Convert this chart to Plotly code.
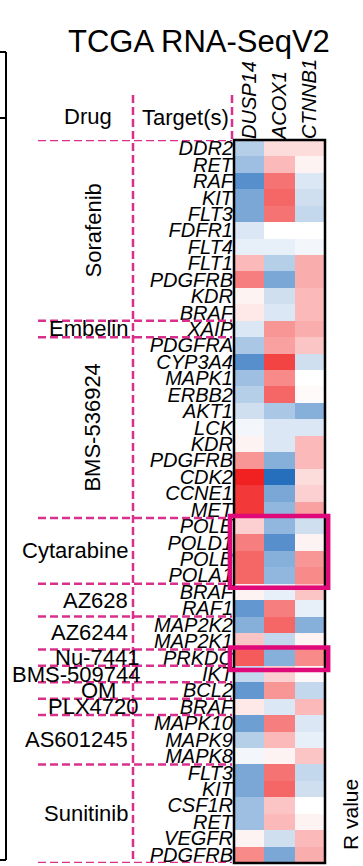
import plotly.graph_objects as go

# ---------------- data ----------------
genes = ["DUSP14", "ACOX1", "CTNNB1"]
drugs = ["Sorafenib", "Embelin", "BMS-536924", "Cytarabine", "AZ628", "AZ6244",
         "Nu-7441", "BMS-509744", "OM", "PLX4720", "AS601245", "Sunitinib"]
drug_sizes = [11, 1, 11, 4, 2, 2, 1, 1, 1, 1, 3, 6]
targets = ["DDR2", "RET", "RAF", "KIT", "FLT3", "FDFR1", "FLT4", "FLT1", "PDGFRB", "KDR", "BRAF",
           "XAIP",
           "PDGFRA", "CYP3A4", "MAPK1", "ERBB2", "AKT1", "LCK", "KDR", "PDGFRB", "CDK2", "CCNE1", "MET",
           "POLE", "POLD1", "POLB", "POLA1",
           "BRAF", "RAF1",
           "MAP2K2", "MAP2K1",
           "PRKDC",
           "IKT",
           "BCL2",
           "BRAF",
           "MAPK10", "MAPK9", "MAPK8",
           "FLT3", "KIT", "CSF1R", "RET", "VEGFR", "PDGFRB"]
dusp14 = [-0.3, -0.4, -0.7, -0.55, -0.55, -0.15, -0.1, 0.3, 0.55, 0.05, 0.1,
          -0.15,
          -0.35, -0.7, -0.4, -0.3, -0.2, -0.05, 0.05, 0.45, 0.95, 0.85, 0.85,
          0.2, 0.55, 0.65, 0.65,
          0.05, -0.65,
          -0.5, 0.25,
          0.7,
          -0.25,
          -0.65,
          0.1,
          -0.6, -0.3, -0.05,
          -0.55, -0.55, -0.4, -0.4, 0.05, 0.5]
acox1 = [0.15, 0.3, 0.6, 0.65, 0.6, 0.0, -0.1, -0.3, -0.55, -0.2, -0.15,
         0.45,
         0.4, 0.8, 0.5, 0.65, -0.35, -0.15, -0.15, -0.5, -0.9, -0.55, -0.45,
         -0.45, -0.7, -0.5, -0.45,
         -0.1, 0.55,
         0.65, -0.25,
         -0.5,
         0.2,
         0.45,
         -0.15,
         0.55, 0.3, 0.05,
         0.6, 0.65, 0.25, 0.3, -0.2, -0.55]
ctnnb1 = [0.15, 0.05, -0.15, -0.2, -0.25, 0.0, -0.05, 0.35, 0.35, 0.3, 0.3,
          0.35,
          0.25, -0.2, 0.0, 0.02, -0.5, -0.15, 0.3, 0.3, 0.15, 0.2, 0.4,
          -0.2, 0.05, 0.45, 0.5,
          0.25, -0.1,
          -0.5, 0.05,
          0.5,
          0.03,
          -0.25,
          0.3,
          -0.15, -0.1, 0.25,
          -0.25, -0.2, 0.0, 0.05, 0.3, 0.35]
highlight_drugs = ["Cytarabine", "Nu-7441"]
rotated_drugs = ["Sorafenib", "BMS-536924"]

# ---------------- layout helpers ----------------
W, H = 363, 866
FONT = "Arial, Liberation Sans, sans-serif"
PINK = "#d8308c"
BOX = "#e0097a"
# label placement (pixels) for the drug column
label_right = {"Nu-7441": 141, "BMS-509744": 142, "PLX4720": 141}
label_center = {"OM": 98}


def px(x):
    return x / W


def py(y):
    return 1 - y / H


n = len(targets)
z = [[dusp14[i], acox1[i], ctnnb1[i]] for i in range(n)]

fig = go.Figure(go.Heatmap(
    z=z, x=list(range(len(genes))), y=list(range(n)),
    zmin=-1, zmax=1, showscale=False,
    colorscale=[[0, "#0d5fb5"], [0.5, "#ffffff"], [1, "#f01515"]],
    hoverinfo="skip",
))

fig.update_layout(
    width=W, height=H, margin=dict(l=0, r=0, t=0, b=0),
    paper_bgcolor="white", plot_bgcolor="white",
    font=dict(family=FONT, color="black"),
    xaxis=dict(domain=[px(234), px(325)], side="top", tickmode="array",
               tickvals=list(range(len(genes))), ticktext=genes, tickangle=-90,
               tickfont=dict(size=20, style="italic", family=FONT, color="black"),
               showgrid=False, zeroline=False, ticks="", range=[-0.5, 2.5],
               automargin=False),
    yaxis=dict(domain=[py(863), py(140)], tickmode="array",
               tickvals=list(range(n)), ticktext=targets,
               tickfont=dict(size=20, style="italic", family=FONT, color="black"),
               showgrid=False, zeroline=False, ticks="", range=[n - 0.5, -0.5],
               automargin=False, ticklabelstandoff=0),
)

shapes = []
annotations = []

# heatmap border
shapes.append(dict(type="rect", xref="x domain", yref="y domain", x0=0, x1=1, y0=0, y1=1,
                   line=dict(color="black", width=2.5)))

# left neighbour panel edge
shapes.append(dict(type="line", xref="paper", yref="paper", x0=px(6), x1=px(6), y0=py(52), y1=py(860),
                   line=dict(color="black", width=2)))
for yy in (52, 118, 860):
    shapes.append(dict(type="line", xref="paper", yref="paper", x0=0, x1=px(6), y0=py(yy), y1=py(yy),
                       line=dict(color="black", width=2)))

dash = "8px,4px"
# header dashed lines
shapes.append(dict(type="line", xref="paper", yref="paper", x0=px(133), x1=px(133), y0=py(95), y1=py(862),
                   line=dict(color=PINK, width=2.5, dash=dash)))
shapes.append(dict(type="line", xref="paper", yref="paper", x0=px(232), x1=px(232), y0=py(95), y1=py(141),
                   line=dict(color=PINK, width=2.5, dash=dash)))
shapes.append(dict(type="line", xref="paper", yref="y", x0=px(38), x1=px(232), y0=-0.5, y1=-0.5,
                   line=dict(color=PINK, width=2.5, dash=dash)))

# group boundaries, labels and highlight boxes
start = 0
for d, s in zip(drugs, drug_sizes):
    end = start + s
    shapes.append(dict(type="line", xref="paper", yref="y", x0=px(38), x1=px(232),
                       y0=end - 0.5, y1=end - 0.5,
                       line=dict(color=PINK, width=2.5, dash=dash)))
    center = (start + end - 1) / 2
    if d in rotated_drugs:
        annotations.append(dict(text=d, xref="paper", yref="y", x=px(93), y=center,
                                xanchor="center", yanchor="middle",
                                showarrow=False, textangle=-90,
                                font=dict(size=22, family=FONT, color="black")))
    elif d in label_center:
        annotations.append(dict(text=d, xref="paper", yref="y", x=px(label_center[d]), y=center,
                                xanchor="center", yanchor="middle", showarrow=False,
                                font=dict(size=22, family=FONT, color="black")))
    else:
        annotations.append(dict(text=d, xref="paper", yref="y", x=px(label_right.get(d, 130)), y=center,
                                xanchor="right", yanchor="middle", showarrow=False,
                                font=dict(size=22, family=FONT, color="black")))
    if d in highlight_drugs:
        shapes.append(dict(type="rect", xref="x domain", yref="y", x0=-0.045, x1=1.035,
                           y0=start - 0.62, y1=end - 0.25,
                           line=dict(color=BOX, width=4.5)))
    start = end

# header texts
annotations += [
    dict(text="TCGA RNA-SeqV2", xref="paper", yref="paper", x=px(199), y=py(42),
         xanchor="center", yanchor="middle",
         showarrow=False, font=dict(size=31, family=FONT, color="black")),
    dict(text="Drug", xref="paper", yref="paper", x=px(88), y=py(116),
         xanchor="center", yanchor="middle",
         showarrow=False, font=dict(size=22, family=FONT, color="black")),
    dict(text="Target(s)", xref="paper", yref="paper", x=px(185), y=py(118),
         xanchor="center", yanchor="middle",
         showarrow=False, font=dict(size=22, family=FONT, color="black")),
    dict(text="R value", xref="paper", yref="paper", x=px(350), y=py(815),
         xanchor="center", yanchor="middle",
         showarrow=False, textangle=-90, font=dict(size=21, family=FONT, color="black")),
]

fig.update_layout(shapes=shapes, annotations=annotations)
fig.write_html("out.html", config={"displayModeBar": False},
               post_script="document.body.style.margin='0px';")
